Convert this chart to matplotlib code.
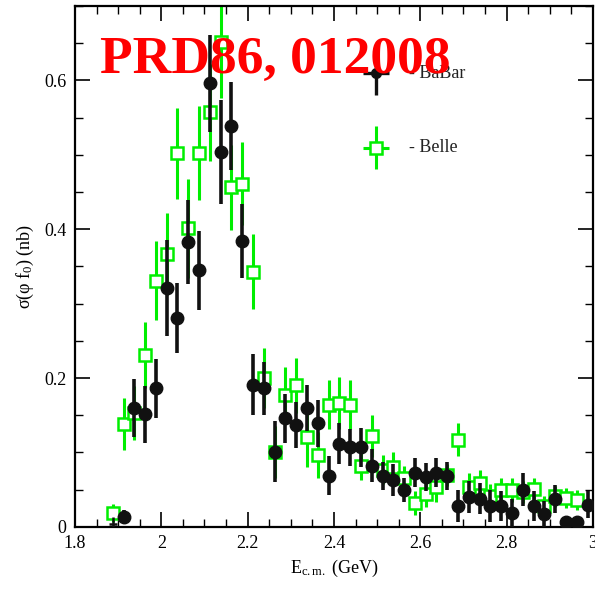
#!/usr/bin/env python3
"""sigma(e+e- -> phi f0) vs E_cm: BaBar and Belle points (PRD86, 012008)."""

import numpy as np
import matplotlib
matplotlib.use('Agg')
import matplotlib.pyplot as plt
from matplotlib.ticker import MultipleLocator, FuncFormatter

plt.rcParams.update({
    'font.family': 'serif',
    'font.serif': ['Liberation Serif', 'DejaVu Serif'],
    'mathtext.fontset': 'custom',
    'mathtext.rm': 'Liberation Serif',
    'mathtext.it': 'Liberation Serif:italic',
    'font.size': 12.5,
})

# BaBar (black circles)
BABAR_E = [1.9125, 1.9375, 1.9625, 1.9875, 2.0125, 2.0375, 2.0625, 2.0875,
           2.1125, 2.1375, 2.1625, 2.1875, 2.2125, 2.2375, 2.2625, 2.2875,
           2.3125, 2.3375, 2.3625, 2.3875, 2.4125, 2.4375, 2.4625, 2.4875,
           2.5125, 2.5375, 2.5625, 2.5875, 2.6125, 2.6375, 2.6625, 2.6875,
           2.7125, 2.7375, 2.7625, 2.7875, 2.8125, 2.8375, 2.8625, 2.8875,
           2.9125, 2.9375, 2.9625, 2.9875]
BABAR_SIG = [0.013, 0.160, 0.151, 0.186, 0.321, 0.281, 0.383, 0.345,
             0.596, 0.504, 0.539, 0.384, 0.191, 0.186, 0.101, 0.146,
             0.137, 0.160, 0.139, 0.069, 0.112, 0.107, 0.107, 0.082,
             0.068, 0.063, 0.049, 0.073, 0.067, 0.073, 0.068, 0.028,
             0.040, 0.038, 0.028, 0.028, 0.018, 0.050, 0.028, 0.017,
             0.037, 0.007, 0.007, 0.030]
BABAR_ERR = [0.009, 0.039, 0.038, 0.040, 0.065, 0.047, 0.056, 0.053,
             0.065, 0.070, 0.059, 0.050, 0.041, 0.036, 0.041, 0.033,
             0.031, 0.031, 0.032, 0.026, 0.027, 0.025, 0.026, 0.022,
             0.019, 0.022, 0.016, 0.020, 0.019, 0.019, 0.019, 0.022,
             0.022, 0.021, 0.021, 0.020, 0.019, 0.022, 0.020, 0.018,
             0.019, 0.006, 0.006, 0.018]

# BaBar lowest bin, drawn as a bare cross at zero
BABAR_E0 = [1.8875]
BABAR_SIG0 = [0.004]

# Belle (green open squares)
BELLE_E = [1.8875, 1.9125, 1.9375, 1.9625, 1.9875, 2.0125, 2.0375, 2.0625,
           2.0875, 2.1125, 2.1375, 2.1625, 2.1875, 2.2125, 2.2375, 2.2625,
           2.2875, 2.3125, 2.3375, 2.3625, 2.3875, 2.4125, 2.4375, 2.4625,
           2.4875, 2.5125, 2.5375, 2.5625, 2.5875, 2.6125, 2.6375, 2.6625,
           2.6875, 2.7125, 2.7375, 2.7625, 2.7875, 2.8125, 2.8375, 2.8625,
           2.8875, 2.9125, 2.9375, 2.9625]
BELLE_SIG = [0.019, 0.138, 0.153, 0.231, 0.331, 0.367, 0.502, 0.401,
             0.502, 0.557, 0.651, 0.456, 0.461, 0.343, 0.200, 0.101,
             0.177, 0.190, 0.121, 0.096, 0.164, 0.166, 0.164, 0.082,
             0.122, 0.077, 0.080, 0.065, 0.032, 0.044, 0.053, 0.070,
             0.117, 0.054, 0.059, 0.042, 0.049, 0.050, 0.047, 0.051,
             0.028, 0.041, 0.039, 0.036]
BELLE_ERR = [0.012, 0.035, 0.036, 0.044, 0.053, 0.055, 0.061, 0.066,
             0.063, 0.065, 0.075, 0.057, 0.056, 0.050, 0.040, 0.035,
             0.038, 0.037, 0.040, 0.031, 0.033, 0.035, 0.033, 0.019,
             0.028, 0.020, 0.021, 0.017, 0.016, 0.017, 0.020, 0.015,
             0.022, 0.018, 0.018, 0.015, 0.017, 0.016, 0.015, 0.014,
             0.013, 0.014, 0.013, 0.013]

GREEN = '#00ee00'
BLACK = '#111111'


def main():
    fig = plt.figure(figsize=(5.95, 5.90), dpi=100)
    ax = fig.add_axes([0.126, 0.107, 0.8706, 0.883])

    ax.errorbar(BELLE_E, BELLE_SIG, yerr=BELLE_ERR, fmt='s', color=GREEN,
                mfc='white', mec=GREEN, mew=1.8, ms=8.5, elinewidth=2.2,
                capsize=0, zorder=2)
    ax.errorbar(BABAR_E, BABAR_SIG, yerr=BABAR_ERR, fmt='o', color=BLACK,
                ms=9, elinewidth=2.6, capsize=0, zorder=3)
    ax.errorbar(BABAR_E0, BABAR_SIG0, xerr=0.009, yerr=0.009, fmt='none',
                ecolor=BLACK, elinewidth=1.8, capsize=0, zorder=3)

    # hand-made legend, as in the original figure
    lx = 0.582
    for ly, lab, kw in [
        (0.871, '- BaBar', dict(fmt='o', color=BLACK, ms=7, elinewidth=2.4)),
        (0.728, '- Belle', dict(fmt='s', color=GREEN, mfc='white', mec=GREEN,
                                mew=1.8, ms=8, elinewidth=2.2)),
    ]:
        ax.errorbar([lx], [ly], xerr=0.025, yerr=0.042, capsize=0,
                    transform=ax.transAxes, zorder=4, **kw)
        ax.text(lx + 0.063, ly, lab, transform=ax.transAxes, fontsize=13,
                va='center', ha='left', color='#222222')

    ax.set_xlim(1.8, 3.0)
    ax.set_ylim(0, 0.7)
    ax.xaxis.set_major_locator(MultipleLocator(0.2))
    ax.xaxis.set_minor_locator(MultipleLocator(0.05))
    ax.yaxis.set_major_locator(MultipleLocator(0.2))
    ax.yaxis.set_minor_locator(MultipleLocator(0.05))
    fmt = FuncFormatter(lambda v, p: f'{v:g}')
    ax.xaxis.set_major_formatter(fmt)
    ax.yaxis.set_major_formatter(fmt)
    ax.tick_params(which='major', direction='in', length=11, width=1.2,
                   top=True, right=True, labelsize=13, pad=6)
    ax.tick_params(which='minor', direction='in', length=6, width=1.0,
                   top=True, right=True)
    for s in ax.spines.values():
        s.set_linewidth(1.6)

    ax.set_xlabel(r'E$_{\mathrm{c.m.}}$ (GeV)', fontsize=13, labelpad=4)
    ax.set_ylabel(r'σ(φ f$_0$) (nb)', fontsize=13, labelpad=6)

    fig.text(0.462, 0.876, 'PRD86, 012008', color='#ff0000', fontsize=38.5,
             fontweight='bold', ha='center', va='baseline', zorder=10)

    fig.savefig('out.png', dpi=100)
    plt.close(fig)


if __name__ == '__main__':
    main()
